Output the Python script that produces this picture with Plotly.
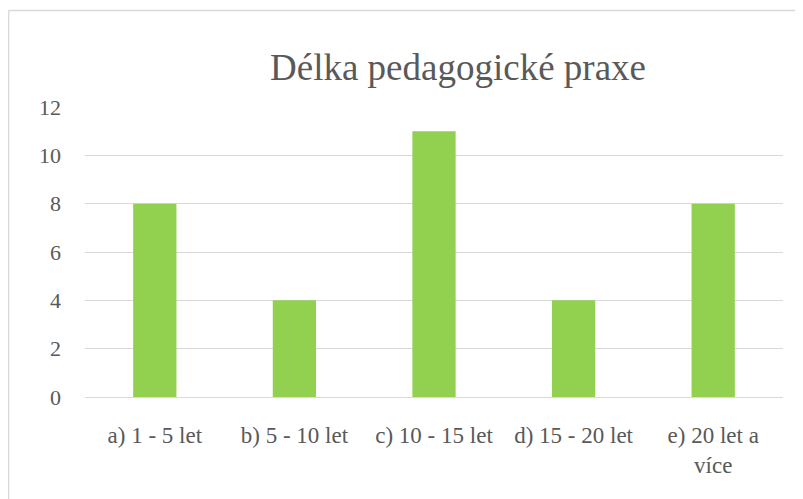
import plotly.graph_objects as go

categories = ["a) 1 - 5 let", "b) 5 - 10 let", "c) 10 - 15 let", "d) 15 - 20 let", "e) 20 let a<br>více"]
values = [8, 4, 11, 4, 8]
y_ticks = [0, 2, 4, 6, 8, 10, 12]

OFF = 8  # page body margin
W, H = 803 - OFF, 499 - OFF
L = 85 - OFF
R = W - (783 - OFF)
T = 107 - OFF
B = H - (397 - OFF)
pw, ph = W - L - R, H - T - B

def px_x(px):
    return (px - OFF - L) / pw

def px_y(py):
    return (H - B - (py - OFF)) / ph

fig = go.Figure(go.Bar(
    x=categories, y=values,
    marker=dict(color="#92D050", line=dict(width=0)),
    width=0.31,
))

font = "Liberation Serif"
fig.update_layout(
    width=W, height=H,
    margin=dict(l=L, r=R, t=T, b=B),
    paper_bgcolor="white", plot_bgcolor="white",
    showlegend=False,
    title=dict(text="Délka pedagogické praxe", x=(458 - OFF) / W, xanchor="center",
               y=1 - (67 - OFF) / H, yanchor="middle",
               font=dict(family=font, size=37, color="#595959")),
    font=dict(family=font, size=23, color="#595959"),
)
fig.update_xaxes(showgrid=False, showline=False, ticks="", ticklabelstandoff=22,
                 tickfont=dict(family=font, size=23, color="#595959"))
fig.update_yaxes(range=[0, 12], tickvals=y_ticks, showgrid=True, gridcolor="#D9D9D9", gridwidth=1,
                 zeroline=True, zerolinecolor="#D9D9D9", zerolinewidth=1, showline=False,
                 ticks="", ticklabelstandoff=23, tickfont=dict(family=font, size=22, color="#595959"))

border = "#D9D9D9"
fig.add_shape(type="line", xref="paper", yref="paper", x0=px_x(8.5), x1=px_x(803 + 5), y0=px_y(10.5), y1=px_y(10.5),
              line=dict(color=border, width=1.5))
fig.add_shape(type="line", xref="paper", yref="paper", x0=px_x(8.5), x1=px_x(8.5), y0=px_y(10.5), y1=px_y(499 + 5),
              line=dict(color=border, width=1.5))

fig.write_html("out.html")
